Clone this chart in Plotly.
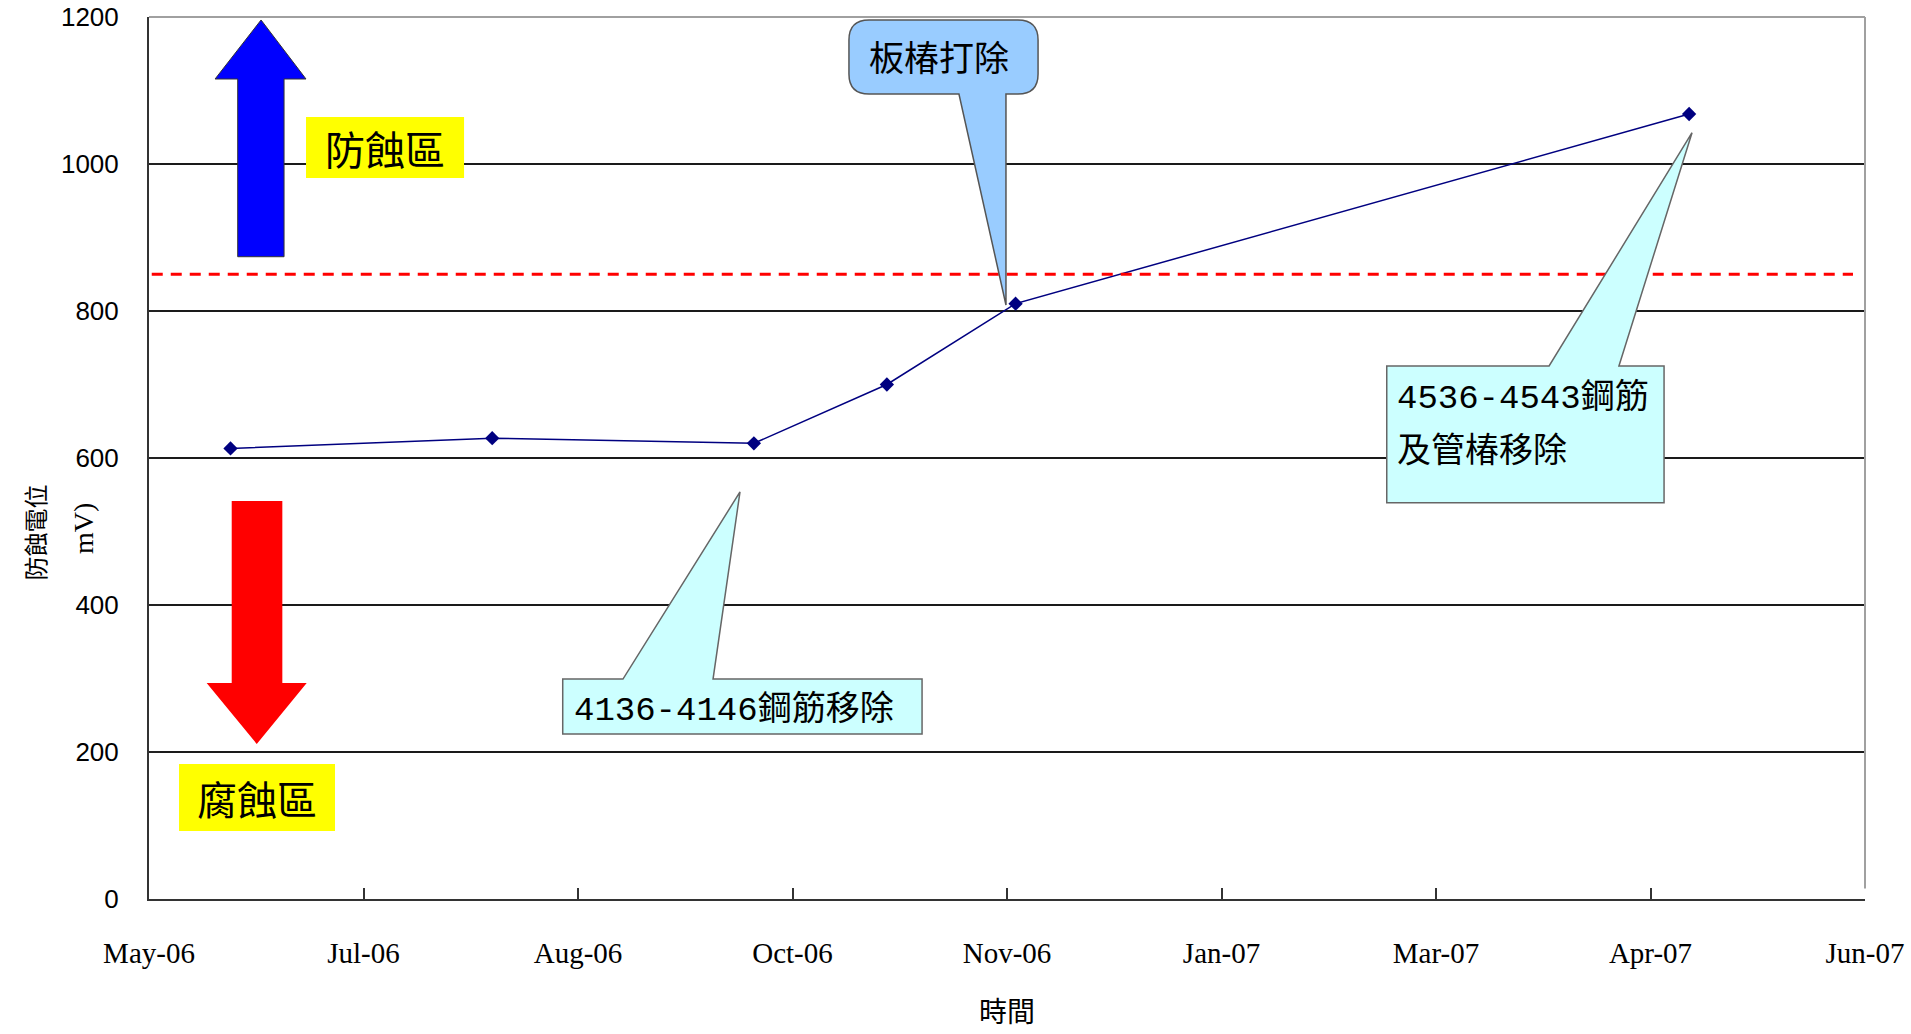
import pandas as pd
import plotly.graph_objects as go

# Measured protection potential over time
survey_dates = ["2006-06-01", "2006-08-01", "2006-10-01", "2006-11-01", "2006-12-01", "2007-05-07"]
potential_mv = [613, 627, 620, 700, 810, 1068]

# Protection criterion
criterion_mv = 850

# Axis settings
axis_start = "2006-05-13"
axis_end = "2007-06-17"
tick_step_days = 50
y_max = 1200
y_step = 200

fig = go.Figure()

fig.add_trace(go.Scatter(
    x=pd.to_datetime(survey_dates),
    y=potential_mv,
    mode="lines+markers",
    line=dict(color="#000080", width=1.5),
    marker=dict(symbol="diamond", size=11, color="#000080"),
    showlegend=False,
    hoverinfo="x+y",
))

shapes = []

# criterion line
shapes.append(dict(type="line", xref="paper", yref="y", x0=0.0016, x1=0.9930,
                   y0=criterion_mv, y1=criterion_mv,
                   line=dict(color="#FF0000", width=3, dash="11px,8px"), layer="above"))

# plot-area frame (top / right)
shapes.append(dict(type="line", xref="paper", yref="paper", x0=0, x1=1, y0=1, y1=1,
                   line=dict(color="#A0A0A0", width=2), layer="above"))
shapes.append(dict(type="line", xref="paper", yref="paper", x0=1, x1=1, y0=0.012, y1=1,
                   line=dict(color="#A0A0A0", width=2), layer="above"))

# up arrow (protection zone)
shapes.append(dict(type="path", xref="paper", yref="paper",
                   path="M 0.0517,0.7282 L 0.0517,0.9297 L 0.0385,0.9297 L 0.0653,0.9966 "
                        "L 0.0915,0.9297 L 0.0787,0.9297 L 0.0787,0.7282 Z",
                   fillcolor="#0000FF", line=dict(color="#333333", width=1), layer="above"))
# down arrow (corrosion zone)
shapes.append(dict(type="path", xref="paper", yref="paper",
                   path="M 0.0482,0.4512 L 0.0777,0.4512 L 0.0777,0.2449 L 0.0919,0.2449 "
                        "L 0.0628,0.1757 L 0.0336,0.2449 L 0.0482,0.2449 Z",
                   fillcolor="#FF0000", line=dict(width=0), layer="above"))

# zone labels background
shapes.append(dict(type="rect", xref="paper", yref="paper", x0=0.0915, x1=0.1836, y0=0.8175, y1=0.8866,
                   fillcolor="#FFFF00", line=dict(width=0), layer="above"))
shapes.append(dict(type="rect", xref="paper", yref="paper", x0=0.0175, x1=0.1084, y0=0.0771, y1=0.1531,
                   fillcolor="#FFFF00", line=dict(width=0), layer="above"))

# rounded callout
x0, x1, y0, y1 = 0.4079, 0.5181, 0.9127, 0.9966
rx, ry = 0.0117, 0.0227
callout1 = (f"M {x0+rx},{y1} L {x1-rx},{y1} Q {x1},{y1} {x1},{y1-ry} L {x1},{y0+ry} "
            f"Q {x1},{y0} {x1-rx},{y0} L 0.4994,{y0} L 0.4994,0.6735 L 0.4720,{y0} "
            f"L {x0+rx},{y0} Q {x0},{y0} {x0},{y0+ry} L {x0},{y1-ry} Q {x0},{y1} {x0+rx},{y1} Z")
shapes.append(dict(type="path", xref="paper", yref="paper", path=callout1,
                   fillcolor="#99CCFF", line=dict(color="#555555", width=1.5), layer="above"))

# rectangular callouts
x0, x1, y0, y1 = 0.2411, 0.4505, 0.1871, 0.2494
callout2 = (f"M {x0},{y0} L {x1},{y0} L {x1},{y1} L 0.3287,{y1} L 0.3444,0.4615 "
            f"L 0.2762,{y1} L {x0},{y1} Z")
shapes.append(dict(type="path", xref="paper", yref="paper", path=callout2,
                   fillcolor="#CCFFFF", line=dict(color="#666666", width=1.5), layer="above"))

x0, x1, y0, y1 = 0.7213, 0.8829, 0.4493, 0.6043
callout3 = (f"M {x0},{y0} L {x1},{y0} L {x1},{y1} L 0.8566,{y1} L 0.8992,0.8688 "
            f"L 0.8159,{y1} L {x0},{y1} Z")
shapes.append(dict(type="path", xref="paper", yref="paper", path=callout3,
                   fillcolor="#CCFFFF", line=dict(color="#666666", width=1.5), layer="above"))

cjk = "Noto Sans CJK TC"
mixed = "Liberation Mono, Noto Sans CJK TC"

annotations = [
    dict(text="防蝕區", x=0.1376, y=0.852, font=dict(family=cjk, size=40, color="#000")),
    dict(text="腐蝕區", x=0.0630, y=0.115, font=dict(family=cjk, size=40, color="#000")),
    dict(text="板椿打除", x=0.4604, y=0.9569, font=dict(family=cjk, size=35, color="#000")),
    dict(text="4136-4146鋼筋移除", x=0.2465, y=0.2143, xanchor="left",
         font=dict(family=mixed, size=34, color="#000")),
    dict(text="4536-4543鋼筋", x=0.7261, y=0.568, xanchor="left",
         font=dict(family=mixed, size=34, color="#000")),
    dict(text="及管椿移除", x=0.7261, y=0.5068, xanchor="left",
         font=dict(family=mixed, size=34, color="#000")),
    # axis titles
    dict(text="時間", x=0.5, y=-0.1255, font=dict(family=cjk, size=28, color="#000")),
    dict(text="防蝕電位", x=-0.0667, y=0.415, textangle=-90, font=dict(family=cjk, size=24, color="#000")),
    dict(text="mV)", x=-0.0385, y=0.4206, textangle=-90,
         font=dict(family="Liberation Serif", size=28, color="#000")),
]
for a in annotations:
    a.setdefault("xref", "paper")
    a.setdefault("yref", "paper")
    a.setdefault("showarrow", False)
    a.setdefault("xanchor", "center")
    a.setdefault("yanchor", "middle")

fig.update_layout(
    width=1911, height=1034, autosize=False,
    margin=dict(l=149, r=46, t=17, b=135),
    paper_bgcolor="white", plot_bgcolor="white",
    shapes=shapes, annotations=annotations,
    xaxis=dict(
        type="date", range=[axis_start, axis_end], automargin=False,
        tick0=axis_start, dtick=tick_step_days * 86400000, tickformat="%b-%y",
        ticks="inside", ticklen=11, tickwidth=1.5, tickcolor="#333",
        showgrid=False, zeroline=False,
        showline=True, linecolor="#333", linewidth=2,
        tickfont=dict(family="Liberation Serif", size=29, color="#000"),
        ticklabelstandoff=27,
    ),
    yaxis=dict(
        range=[0, y_max], dtick=y_step, tick0=0, automargin=False,
        ticks="inside", ticklen=11, tickwidth=1.5, tickcolor="#222",
        showgrid=True, gridcolor="#1a1a1a", gridwidth=1.5,
        zeroline=False, showline=True, linecolor="#333", linewidth=2,
        tickfont=dict(family="Liberation Sans", size=26, color="#000"),
        ticklabelstandoff=23,
    ),
)

fig.write_html("out.html")
